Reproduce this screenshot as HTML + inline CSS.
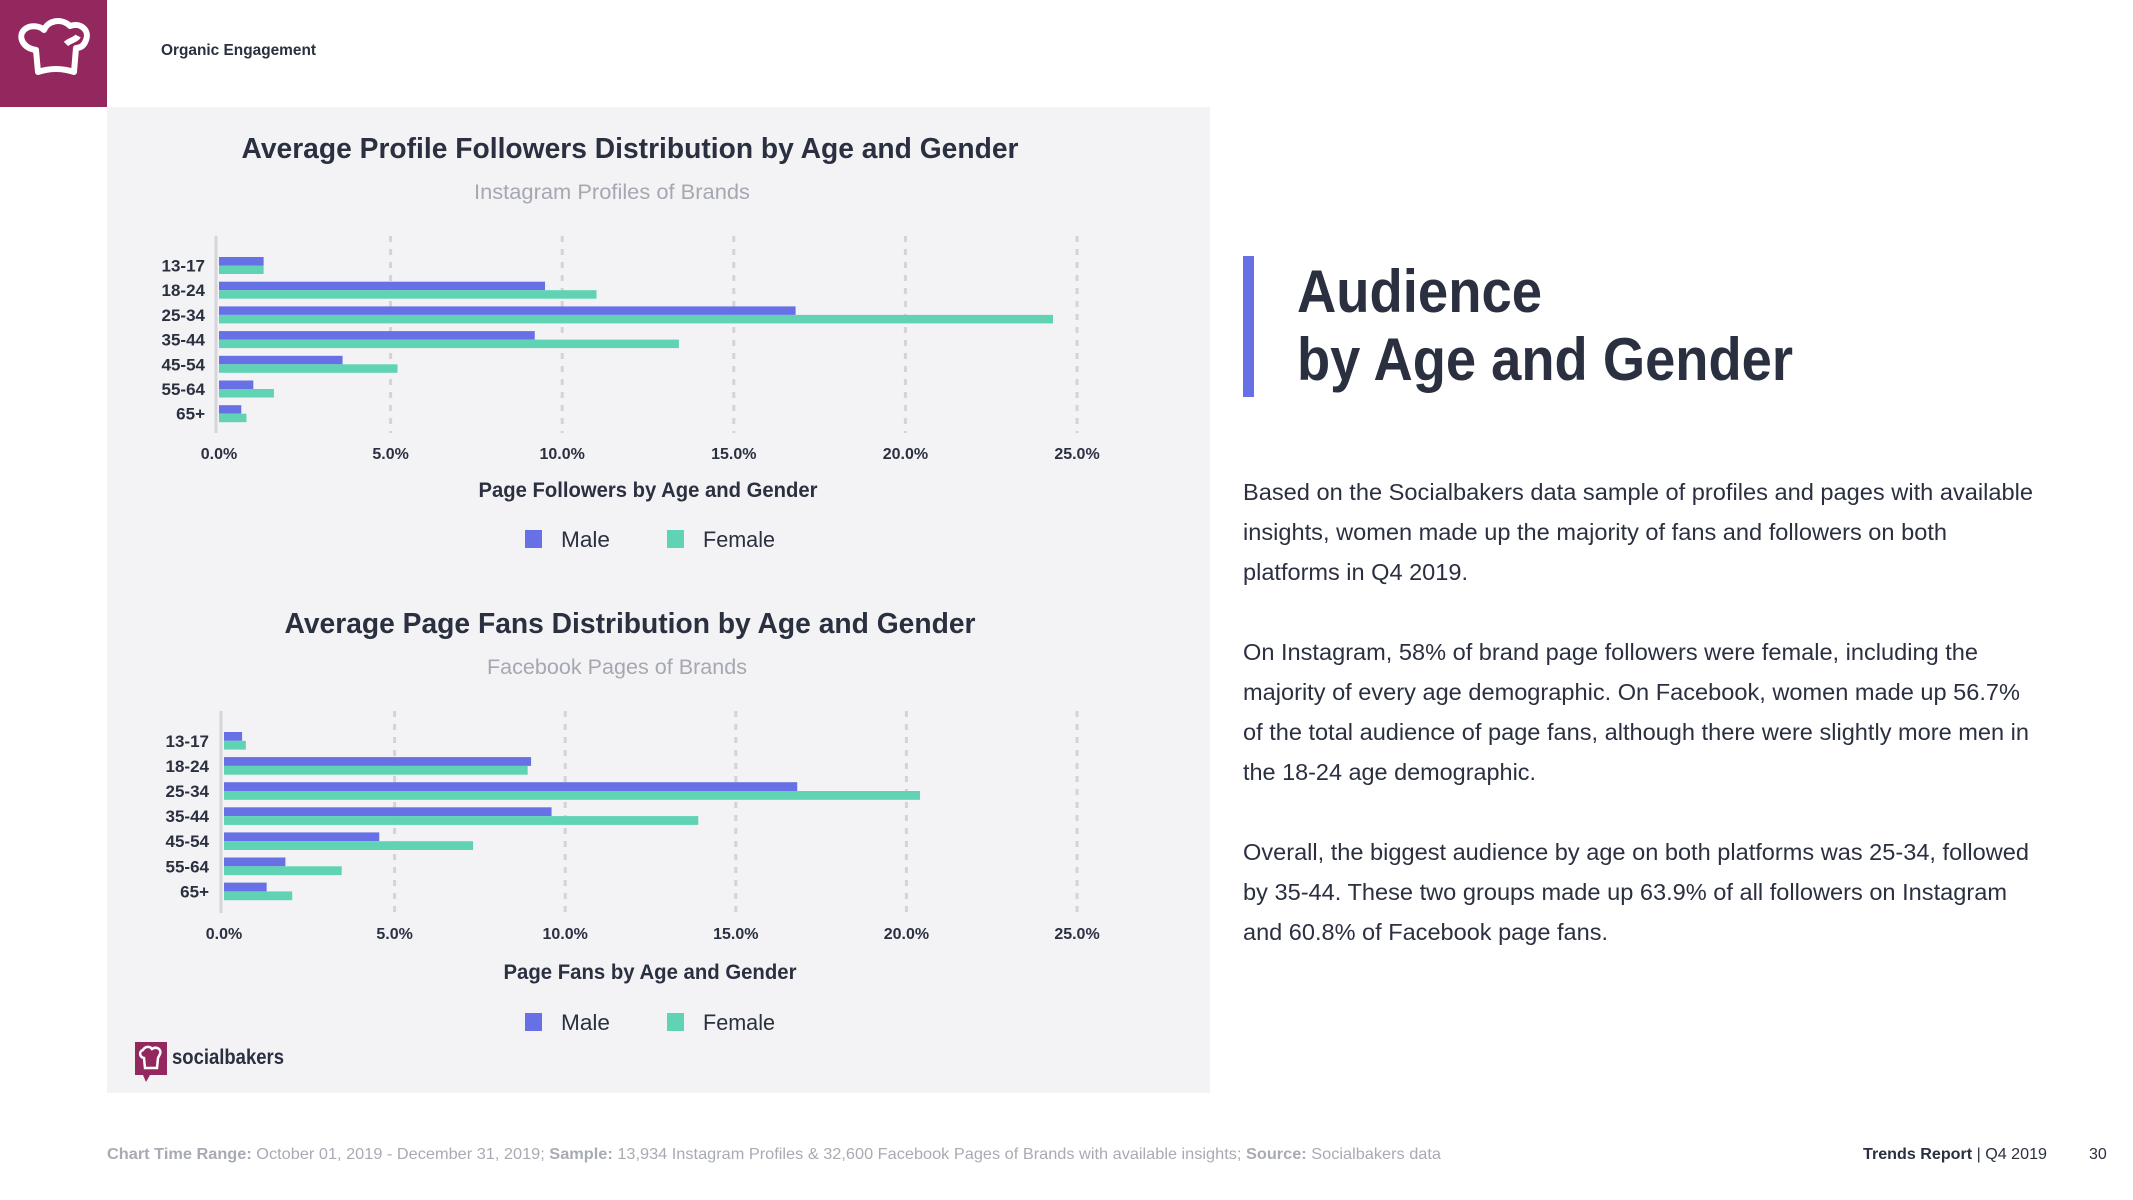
<!DOCTYPE html>
<html><head><meta charset="utf-8"><style>
html,body{margin:0;padding:0;background:#fff;}
svg{display:block;font-family:"Liberation Sans",sans-serif;}
</style></head><body>
<svg id="page" width="2133" height="1200" viewBox="0 0 2133 1200" xmlns="http://www.w3.org/2000/svg">
  <rect x="0" y="0" width="107" height="107" fill="#93285f"/>
  <path d="M38 72 L36 50 C22 48 18 36 24 30 C30 24 40 26 44 30 C48 20 62 18 70 26 C80 22 90 30 86 40 C84 46 80 48 76 48 L74 72 C62 68 50 68 38 72 Z M66 44 C70 40 76 40 78 36" fill="none" stroke="#fff" stroke-width="6" stroke-linejoin="round"/>
  <text x="161" y="55" font-size="16" font-weight="bold" fill="#2b3040" textLength="155" lengthAdjust="spacingAndGlyphs">Organic Engagement</text>

  <rect x="107" y="107" width="1103" height="986" fill="#f3f3f5"/>

  <text x="630" y="158" text-anchor="middle" font-size="29" font-weight="bold" fill="#2b3040" textLength="777" lengthAdjust="spacingAndGlyphs">Average Profile Followers Distribution by Age and Gender</text>
  <text x="612" y="199" text-anchor="middle" font-size="21" fill="#a5a8b1" textLength="276" lengthAdjust="spacingAndGlyphs">Instagram Profiles of Brands</text>
  <g id="chart1"></g>
  <text x="648" y="497" text-anchor="middle" font-size="21" font-weight="bold" fill="#2b3040" textLength="339" lengthAdjust="spacingAndGlyphs">Page Followers by Age and Gender</text>
  <g>
    <rect x="525" y="530" width="17" height="18" fill="#6770e4"/>
    <text x="561" y="547" font-size="22" fill="#2b3040" textLength="49" lengthAdjust="spacingAndGlyphs">Male</text>
    <rect x="667" y="530" width="17" height="18" fill="#5fd3b3"/>
    <text x="703" y="547" font-size="22" fill="#2b3040" textLength="72" lengthAdjust="spacingAndGlyphs">Female</text>
  </g>

  <text x="630" y="633" text-anchor="middle" font-size="29" font-weight="bold" fill="#2b3040" textLength="691" lengthAdjust="spacingAndGlyphs">Average Page Fans Distribution by Age and Gender</text>
  <text x="617" y="674" text-anchor="middle" font-size="21" fill="#a5a8b1" textLength="260" lengthAdjust="spacingAndGlyphs">Facebook Pages of Brands</text>
  <g id="chart2"></g>
  <text x="650" y="979" text-anchor="middle" font-size="21" font-weight="bold" fill="#2b3040" textLength="293" lengthAdjust="spacingAndGlyphs">Page Fans by Age and Gender</text>
  <g>
    <rect x="525" y="1013" width="17" height="18" fill="#6770e4"/>
    <text x="561" y="1030" font-size="22" fill="#2b3040" textLength="49" lengthAdjust="spacingAndGlyphs">Male</text>
    <rect x="667" y="1013" width="17" height="18" fill="#5fd3b3"/>
    <text x="703" y="1030" font-size="22" fill="#2b3040" textLength="72" lengthAdjust="spacingAndGlyphs">Female</text>
  </g>

  <g>
    <path d="M135 1042 H167 V1075 H150 L146 1082 L143 1075 H135 Z" fill="#93285f"/>
    <path d="M145 1068 L144 1058 C139 1057 139 1051 143 1050 C145 1046 150 1046 152 1049 C156 1046 162 1049 160 1054 L158 1058 L157 1068 Z" fill="none" stroke="#fff" stroke-width="2.5"/>
    <text x="172" y="1064" font-size="21" font-weight="bold" fill="#2b3040" textLength="112" lengthAdjust="spacingAndGlyphs">socialbakers</text>
  </g>

  <rect x="1243" y="256" width="11" height="141" fill="#6770e4"/>
  <text x="1297" y="312" font-size="60" font-weight="bold" fill="#2b3040" textLength="245" lengthAdjust="spacingAndGlyphs">Audience</text>
  <text x="1297" y="380" font-size="60" font-weight="bold" fill="#2b3040" textLength="496" lengthAdjust="spacingAndGlyphs">by Age and Gender</text>

  <g font-size="23" fill="#2b3040">
    <text x="1243" y="500" textLength="790" lengthAdjust="spacingAndGlyphs">Based on the Socialbakers data sample of profiles and pages with available</text>
    <text x="1243" y="540" textLength="704" lengthAdjust="spacingAndGlyphs">insights, women made up the majority of fans and followers on both</text>
    <text x="1243" y="580" textLength="225" lengthAdjust="spacingAndGlyphs">platforms in Q4 2019.</text>
    <text x="1243" y="660" textLength="735" lengthAdjust="spacingAndGlyphs">On Instagram, 58% of brand page followers were female, including the</text>
    <text x="1243" y="700" textLength="777" lengthAdjust="spacingAndGlyphs">majority of every age demographic. On Facebook, women made up 56.7%</text>
    <text x="1243" y="740" textLength="786" lengthAdjust="spacingAndGlyphs">of the total audience of page fans, although there were slightly more men in</text>
    <text x="1243" y="780" textLength="293" lengthAdjust="spacingAndGlyphs">the 18-24 age demographic.</text>
    <text x="1243" y="860" textLength="786" lengthAdjust="spacingAndGlyphs">Overall, the biggest audience by age on both platforms was 25-34, followed</text>
    <text x="1243" y="900" textLength="764" lengthAdjust="spacingAndGlyphs">by 35-44. These two groups made up 63.9% of all followers on Instagram</text>
    <text x="1243" y="940" textLength="365" lengthAdjust="spacingAndGlyphs">and 60.8% of Facebook page fans.</text>
  </g>

  <text x="107" y="1159" font-size="16" fill="#a8abb3" textLength="1334" lengthAdjust="spacingAndGlyphs"><tspan font-weight="bold">Chart Time Range:</tspan> October 01, 2019 - December 31, 2019; <tspan font-weight="bold">Sample:</tspan> 13,934 Instagram Profiles &amp; 32,600 Facebook Pages of Brands with available insights; <tspan font-weight="bold">Source:</tspan> Socialbakers data</text>
  <text x="1863" y="1159" font-size="16" fill="#2b3040" textLength="184" lengthAdjust="spacingAndGlyphs"><tspan font-weight="bold">Trends Report</tspan> | Q4 2019</text>
  <text x="2089" y="1159" font-size="16" fill="#2b3040">30</text>
</svg>
<script>
const categories = ["13-17","18-24","25-34","35-44","45-54","55-64","65+"];
const igMale   = [1.3, 9.5, 16.8, 9.2, 3.6, 1.0, 0.65];
const igFemale = [1.3, 11.0, 24.3, 13.4, 5.2, 1.6, 0.8];
const fbMale   = [0.53, 9.0, 16.8, 9.6, 4.55, 1.8, 1.25];
const fbFemale = [0.64, 8.9, 20.4, 13.9, 7.3, 3.45, 2.0];
const ticks = [0, 5, 10, 15, 20, 25];
const tickLabels = ["0.0%","5.0%","10.0%","15.0%","20.0%","25.0%"];

const NS = "http://www.w3.org/2000/svg";
function mk(tag, attrs, parent){const e=document.createElementNS(NS,tag);for(const k in attrs)e.setAttribute(k,attrs[k]);parent.appendChild(e);return e;}

function drawChart(g, male, female, cfg){
  const x = v => cfg.x0 + (v/25)*(cfg.x25-cfg.x0);
  const y = i => cfg.rowTop + i*cfg.pitch;
  ticks.forEach((t,i)=>{
    if(t>0){
      const l=mk("line",{x1:x(t),x2:x(t),y1:cfg.gTop,y2:cfg.gBot,stroke:"#d3d3d8","stroke-width":3,"stroke-dasharray":"6 7"},g);
      
      
    }
    const tx=mk("text",{x:x(t),y:cfg.tickY,"text-anchor":"middle","font-size":16,"font-weight":"bold",fill:"#2b3040"},g);
    tx.textContent=tickLabels[i];
    
    
  });
  const ax=mk("line",{x1:cfg.x0-3,x2:cfg.x0-3,y1:cfg.gTop,y2:cfg.gBot,stroke:"#d5d5da","stroke-width":3},g);
  
  
  categories.forEach((c,i)=>{
    const bm=mk("rect",{x:x(0),y:y(i),width:x(male[i])-x(0),height:cfg.bh,fill:"#6770e4"},g);
    
    
    const bf=mk("rect",{x:x(0),y:y(i)+cfg.bh,width:x(female[i])-x(0),height:cfg.bh,fill:"#5fd3b3"},g);
    
    
    const lb=mk("text",{x:cfg.labelX,y:y(i)+cfg.bh+6,"text-anchor":"end","font-size":17,"font-weight":"bold",fill:"#2b3040"},g);
    lb.textContent=c;
    
    
  });
}
drawChart(document.getElementById("chart1"), igMale, igFemale,
  {x0:219,x25:1077,rowTop:257,pitch:24.7,bh:8.5,gTop:236,gBot:433,tickY:459,labelX:205});
drawChart(document.getElementById("chart2"), fbMale, fbFemale,
  {x0:224,x25:1077,rowTop:732,pitch:25.1,bh:8.8,gTop:711,gBot:913,tickY:939,labelX:209});
</script>
</body></html>
